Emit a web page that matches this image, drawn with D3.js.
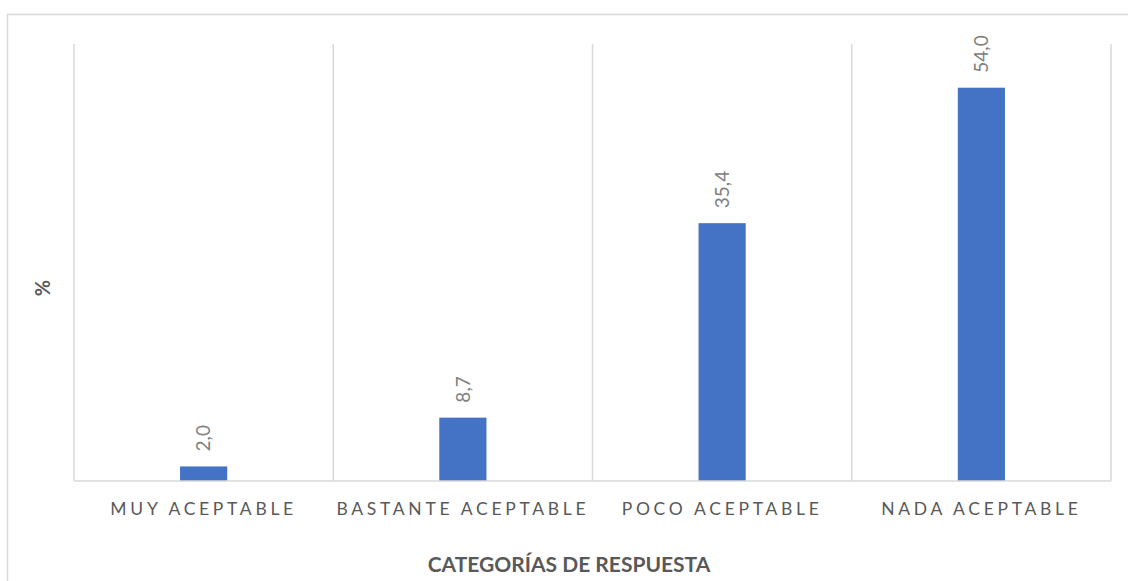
<!DOCTYPE html>
<html>
<head>
<meta charset="utf-8">
<script src="https://cdn.jsdelivr.net/npm/d3@7"></script>
<style>
  html, body { margin: 0; padding: 0; background: #ffffff; }
  svg { display: block; }
</style>
</head>
<body>
<svg id="chart" width="1128" height="581"></svg>
<script>
// Response categories and their shares (%)
const categories = ["MUY ACEPTABLE", "BASTANTE ACEPTABLE", "POCO ACEPTABLE", "NADA ACEPTABLE"];
const values = [2.0, 8.7, 35.4, 54.0];
const yDomain = [0, 60];
const xTitle = "CATEGORÍAS DE RESPUESTA";
const yTitle = "%";

const W = 1128, H = 581;
const margin = { left: 74, right: 17, top: 44, bottom: 100 };
const fontFamily = "Lato, 'Open Sans', sans-serif";

const svg = d3.select("#chart");

// Outer chart frame
svg.append("rect")
  .attr("x", 7.5).attr("y", 14.5)
  .attr("width", W + 20).attr("height", H + 20)
  .attr("fill", "none")
  .attr("stroke", "#d9d9d9")
  .attr("stroke-width", 1.5);

const x = d3.scaleBand()
  .domain(categories)
  .range([margin.left, W - margin.right])
  .paddingInner(0).paddingOuter(0);

const y = d3.scaleLinear()
  .domain(yDomain)
  .range([H - margin.bottom, margin.top]);

// Vertical category separators
const sepX = categories.map(c => x(c)).concat([x(categories[categories.length - 1]) + x.bandwidth()]);
svg.append("g")
  .selectAll("line")
  .data(sepX)
  .join("line")
  .attr("x1", d => d).attr("x2", d => d)
  .attr("y1", y(yDomain[1])).attr("y2", y(0))
  .attr("stroke", "#d9d9d9")
  .attr("stroke-width", 1.5);

// Bars
const barW = x.bandwidth() * 0.182;
svg.append("g")
  .selectAll("rect")
  .data(values)
  .join("rect")
  .attr("x", (d, i) => x(categories[i]) + x.bandwidth() / 2 - barW / 2)
  .attr("y", d => y(d))
  .attr("width", barW)
  .attr("height", d => y(0) - y(d))
  .attr("fill", "#4472c4");

// Baseline
svg.append("line")
  .attr("x1", margin.left).attr("x2", W - margin.right)
  .attr("y1", y(0)).attr("y2", y(0))
  .attr("stroke", "#d9d9d9")
  .attr("stroke-width", 1.5);

// Value labels, rotated
const fmt = v => v.toFixed(1).replace(".", ",");
svg.append("g")
  .selectAll("text")
  .data(values)
  .join("text")
  .attr("transform", (d, i) => {
    const cx = x(categories[i]) + x.bandwidth() / 2;
    return `translate(${cx},${y(d) - 15}) rotate(-90)`;
  })
  .attr("dy", "0.35em")
  .attr("text-anchor", "start")
  .attr("font-family", fontFamily)
  .attr("font-size", 19)
  .attr("fill", "#808080")
  .text(d => fmt(d));

// Category axis labels
const xAxis = d3.axisBottom(x).tickSize(0).tickPadding(0);
const gx = svg.append("g")
  .attr("transform", `translate(0,${y(0)})`)
  .call(xAxis);
gx.select(".domain").remove();
gx.selectAll("text")
  .attr("y", 34)
  .attr("dy", 0)
  .attr("font-family", fontFamily)
  .attr("font-size", 17.5)
  .attr("letter-spacing", "3.7px")
  .attr("fill", "#595959");

// Axis titles
svg.append("text")
  .attr("x", 569)
  .attr("y", 572)
  .attr("text-anchor", "middle")
  .attr("font-family", fontFamily)
  .attr("font-weight", "bold")
  .attr("font-size", 21)
  .attr("fill", "#595959")
  .text(xTitle);

svg.append("text")
  .attr("transform", `translate(43,288) rotate(-90)`)
  .attr("dy", "0.35em")
  .attr("text-anchor", "middle")
  .attr("font-family", fontFamily)
  .attr("font-weight", "bold")
  .attr("font-size", 20)
  .attr("fill", "#595959")
  .text(yTitle);
</script>
</body>
</html>
